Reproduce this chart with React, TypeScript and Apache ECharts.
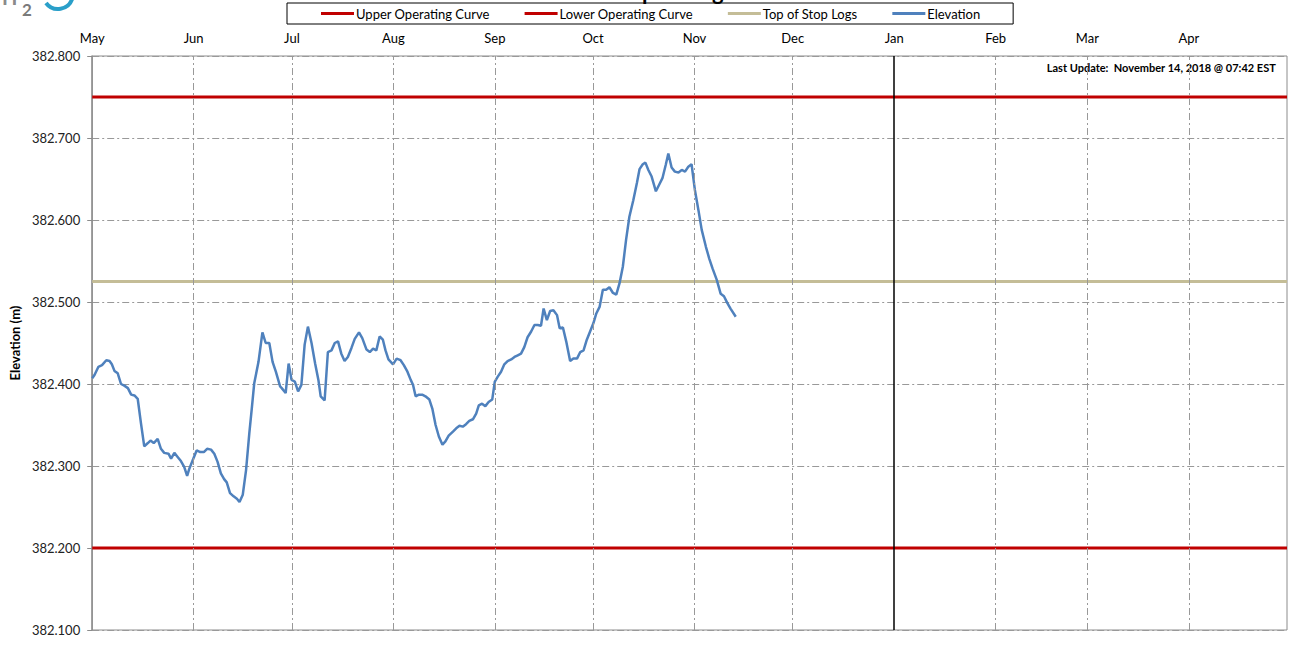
import React, { useEffect, useRef } from "react";
import * as echarts from "echarts";

// Month starts as day offsets from May 1, 2018
const monthDays = [0, 31, 61, 92, 123, 153, 184, 214, 245, 276, 304, 335];
const monthLabels = ["May", "Jun", "Jul", "Aug", "Sep", "Oct", "Nov", "Dec", "Jan", "Feb", "Mar", "Apr"];
const yearEnd = 365;
const yearBoundary = 245;

const upperCurve = 382.75;
const lowerCurve = 382.2;
const stopLogs = 382.525;

// Elevation readings: day offset from May 1, 2018 and elevation (m)
const elevDays = [
  0, 0.7, 1.9, 3.0, 4.3, 5.3, 6.0, 6.8, 7.8, 8.8, 9.8, 10.9, 11.9, 12.9, 13.9, 14.9, 15.9, 17.0, 17.8, 18.8,
  20.0, 21.0, 22.0, 23.3, 24.1, 25.1, 26.1, 27.1, 28.1, 29.0, 29.7, 30.7, 31.9, 33.0, 34.1, 35.1, 36.3, 37.3, 38.3, 39.3,
  40.3, 41.1, 42.1, 43.2, 44.2, 45.0, 46.0, 47.0, 48.0, 48.8, 49.5, 50.8, 52.0, 53.0, 54.1, 55.1, 56.1, 57.4, 57.9, 59.1,
  60.0, 60.9, 61.9, 62.9, 63.9, 64.9, 65.9, 67.0, 68.1, 69.1, 69.8, 71.0, 72.0, 73.1, 74.1, 75.1, 76.1, 77.1, 78.1, 79.2,
  80.2, 81.5, 82.5, 83.8, 84.8, 85.8, 86.8, 87.8, 88.8, 89.6, 90.5, 91.9, 93.0, 94.2, 95.2, 96.3, 97.3, 98.0, 98.8, 99.8,
  100.8, 101.8, 103.0, 103.9, 104.9, 105.9, 107.0, 107.9, 108.9, 110.2, 111.2, 112.2, 113.2, 114.2, 115.2, 116.3, 117.3, 118.1, 119.1, 120.1,
  121.1, 122.2, 123.0, 123.9, 124.9, 125.9, 126.9, 128.0, 129.0, 130.0, 131.0, 132.0, 133.0, 134.1, 135.1, 136.1, 137.1, 137.9, 138.9, 139.9,
  140.9, 142.0, 142.8, 143.8, 144.8, 146.0, 147.0, 148.1, 149.1, 150.1, 151.1, 152.1, 153.1, 154.0, 155.0, 156.0, 157.0, 158.0, 159.1, 160.1,
  161.1, 162.1, 163.1, 164.1, 165.3, 166.4, 167.2, 168.2, 169.0, 169.9, 170.9, 172.2, 173.2, 174.2, 175.2, 176.0, 177.0, 178.0, 179.1, 180.1,
  181.1, 182.1, 183.1, 184.1, 185.2, 186.2, 187.5, 188.5, 189.5, 190.8, 192.0, 193.0, 194.0, 195.0, 196.6,
];
const elevValues = [
  382.407, 382.411, 382.421, 382.423, 382.429, 382.428, 382.424, 382.416, 382.413, 382.400, 382.398, 382.395, 382.387, 382.386, 382.382, 382.352, 382.324, 382.328, 382.331, 382.328,
  382.333, 382.321, 382.316, 382.315, 382.309, 382.316, 382.311, 382.306, 382.299, 382.288, 382.297, 382.307, 382.319, 382.317, 382.317, 382.321, 382.320, 382.315, 382.305, 382.291,
  382.284, 382.280, 382.267, 382.263, 382.260, 382.256, 382.265, 382.295, 382.340, 382.372, 382.401, 382.427, 382.463, 382.450, 382.450, 382.427, 382.415, 382.397, 382.395, 382.389,
  382.425, 382.405, 382.403, 382.391, 382.399, 382.448, 382.470, 382.450, 382.425, 382.405, 382.385, 382.380, 382.439, 382.441, 382.450, 382.452, 382.437, 382.428, 382.433, 382.444,
  382.455, 382.463, 382.456, 382.442, 382.439, 382.443, 382.441, 382.458, 382.454, 382.441, 382.430, 382.424, 382.431, 382.429, 382.423, 382.415, 382.405, 382.399, 382.385, 382.387,
  382.387, 382.385, 382.381, 382.370, 382.350, 382.336, 382.326, 382.330, 382.337, 382.342, 382.346, 382.349, 382.348, 382.351, 382.355, 382.357, 382.364, 382.374, 382.376, 382.373,
  382.378, 382.381, 382.403, 382.409, 382.415, 382.424, 382.428, 382.430, 382.433, 382.435, 382.437, 382.445, 382.457, 382.464, 382.472, 382.472, 382.471, 382.492, 382.478, 382.489,
  382.490, 382.484, 382.468, 382.469, 382.452, 382.428, 382.431, 382.431, 382.439, 382.441, 382.454, 382.464, 382.474, 382.486, 382.494, 382.515, 382.515, 382.518, 382.511, 382.509,
  382.523, 382.543, 382.576, 382.604, 382.624, 382.645, 382.662, 382.668, 382.670, 382.661, 382.653, 382.635, 382.643, 382.651, 382.667, 382.681, 382.664, 382.659, 382.658, 382.661,
  382.659, 382.665, 382.668, 382.637, 382.612, 382.588, 382.567, 382.553, 382.541, 382.527, 382.510, 382.507, 382.499, 382.492, 382.482,
];

const seriesNames = ["Upper Operating Curve", "Lower Operating Curve", "Top of Stop Logs", "Elevation"];
const seriesColors = ["#C00000", "#C00000", "#C4BD97", "#4F81BD"];

const FONT = "Lato, 'Open Sans', sans-serif";

export default function App() {
  const ref = useRef<HTMLDivElement>(null);
  useEffect(() => {
    if (!ref.current) return;
    const chart = echarts.init(ref.current, null, { renderer: "svg" });
    const flat = (v: number) => [[0, v], [yearEnd, v]];
    const elevData = elevDays.map((d, i) => [d, elevValues[i]]);
    const dash = [7, 3, 2, 3];
    chart.setOption({
      animation: false,
      backgroundColor: "#fff",
      textStyle: { fontFamily: FONT },
      grid: {
        left: 90,
        right: 12,
        top: 56,
        bottom: 25,
        show: true,
        borderColor: "#8c8c8c",
        borderWidth: 1,
      },
      legend: {
        data: seriesNames,
        left: 287,
        top: 3,
        padding: [4, 33, 4, 34],
        itemGap: 35,
        itemWidth: 33,
        itemHeight: 3,
        icon: "rect",
        borderColor: "#000",
        borderWidth: 1,
        textStyle: { fontFamily: FONT, fontSize: 13, color: "#000", padding: [0, 0, 0, -3] },
      },
      xAxis: {
        type: "value",
        min: 0,
        max: yearEnd,
        position: "top",
        axisLine: { show: false },
        axisTick: { show: false },
        splitLine: { show: false },
        axisLabel: {
          customValues: monthDays,
          formatter: (v: number) => {
            const i = monthDays.indexOf(v);
            return i >= 0 ? monthLabels[i] : "";
          },
          margin: 12,
          fontSize: 13,
          color: "#000",
          fontFamily: FONT,
        },
      },
      yAxis: {
        type: "value",
        min: 382.1,
        max: 382.8,
        interval: 0.1,
        name: "Elevation (m)",
        nameLocation: "middle",
        nameGap: 68,
        nameTextStyle: { fontFamily: FONT, fontSize: 13, fontWeight: "bold", color: "#000" },
        axisLine: { show: true, lineStyle: { color: "#8c8c8c", width: 1.5 } },
        axisTick: { show: true, length: 5, lineStyle: { color: "#8c8c8c" } },
        axisLabel: {
          formatter: (v: number) => v.toFixed(3),
          fontSize: 13,
          color: "#222",
          fontFamily: FONT,
          margin: 12,
        },
        splitLine: { show: true, lineStyle: { color: "#999", type: dash, width: 1 } },
      },
      graphic: [
        {
          type: "text",
          right: 23,
          top: 62,
          style: {
            text: "Last Update:  November 14, 2018 @ 07:42 EST",
            font: `bold 11px ${FONT}`,
            fill: "#000",
          },
        },
        {
          type: "text",
          x: 790,
          y: 2,
          style: {
            text: "Current Operating Status",
            font: `bold 22px ${FONT}`,
            fill: "#000",
            textAlign: "right",
            textVerticalAlign: "bottom",
          },
        },
        {
          type: "text",
          x: 2,
          y: 7,
          style: { text: "H", font: `bold 20px ${FONT}`, fill: "#8a8a8a", textVerticalAlign: "bottom" },
        },
        {
          type: "text",
          x: 22,
          y: 18,
          style: { text: "2", font: `bold 17px ${FONT}`, fill: "#7a7a7a", textVerticalAlign: "bottom" },
        },
        {
          type: "arc",
          shape: { cx: 58, cy: -6, r: 15, startAngle: 0.3, endAngle: 2.5 },
          style: { stroke: "#2a9fc9", lineWidth: 4, fill: "none" },
        },
      ],
      series: [
        {
          name: "grid",
          type: "line",
          data: [],
          silent: true,
          z: 1,
          markLine: {
            silent: true,
            symbol: ["none", "none"],
            label: { show: false },
            lineStyle: { color: "#999", type: dash, width: 1 },
            data: [
              ...monthDays
                .filter((d) => d !== 0 && d !== yearBoundary)
                .map((d) => ({ xAxis: d })),
              { xAxis: yearBoundary, lineStyle: { color: "#000", type: "solid", width: 1.5 } },
            ],
          },
        },
        {
          name: seriesNames[0],
          type: "line",
          data: flat(upperCurve),
          showSymbol: false,
          color: seriesColors[0],
          lineStyle: { color: seriesColors[0], width: 3 },
          z: 3,
        },
        {
          name: seriesNames[1],
          type: "line",
          data: flat(lowerCurve),
          showSymbol: false,
          color: seriesColors[1],
          lineStyle: { color: seriesColors[1], width: 3 },
          z: 3,
        },
        {
          name: seriesNames[2],
          type: "line",
          data: flat(stopLogs),
          showSymbol: false,
          color: seriesColors[2],
          lineStyle: { color: seriesColors[2], width: 3 },
          z: 3,
        },
        {
          name: seriesNames[3],
          type: "line",
          data: elevData,
          showSymbol: false,
          color: seriesColors[3],
          lineStyle: { color: seriesColors[3], width: 2.5 },
          z: 4,
        },
      ],
    });
    return () => chart.dispose();
  }, []);
  return (
    <div
      ref={ref}
      style={{ position: "fixed", left: 0, top: 0, width: 1299, height: 655 }}
    />
  );
}
